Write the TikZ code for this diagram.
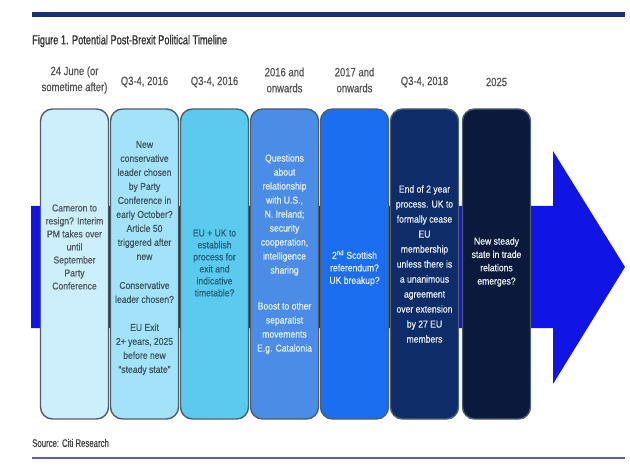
\documentclass[tikz,border=0pt]{standalone}
\usepackage{fontspec}
\setmainfont{Liberation Sans}
\newfontfamily\titlefont[FakeStretch=0.71,FakeBold=1.2]{Liberation Sans}
\newfontfamily\headfont[FakeStretch=0.79,FakeBold=0.7]{Liberation Sans}
\newfontfamily\boxfont[FakeStretch=0.86,FakeBold=0.6]{Liberation Sans}

\definecolor{barnavy}{HTML}{17306E}
\definecolor{rulegrey}{HTML}{5A6590}
\definecolor{arrowblue}{HTML}{1014E4}
\definecolor{framegrey}{HTML}{4E5E6C}
\definecolor{headgrey}{HTML}{555555}
\definecolor{c1}{HTML}{CDEFFB}
\definecolor{c2}{HTML}{A3E2F8}
\definecolor{c3}{HTML}{5BCAEE}
\definecolor{c4}{HTML}{4B8DE6}
\definecolor{c5}{HTML}{1C6EF0}
\definecolor{c6}{HTML}{0E2C68}
\definecolor{c7}{HTML}{0B1A3C}
\definecolor{ink1}{HTML}{4E5A62}
\definecolor{ink2}{HTML}{3D5866}
\definecolor{ink3}{HTML}{1F6380}
\definecolor{inklight}{HTML}{E8EEFA}

\tikzset{
  stagebox/.style={draw=framegrey, line width=1.4pt, rounded corners=12pt,
    minimum width=68pt, minimum height=310pt, inner sep=0pt, outer sep=0pt},
  period/.style={font=\headfont\fontsize{12}{16}\selectfont, text=headgrey,
    align=center, inner sep=0pt},
  blurb/.style={font=\boxfont\fontsize{10}{14}\selectfont, align=center,
    inner sep=0pt},
}

\begin{document}
\begin{tikzpicture}[x=1pt, y=-1pt]
      \useasboundingbox (0,0) rectangle (630,476);
      % rules and title
      \fill[barnavy] (32,12.5) rectangle (625,17.5);
      \node[anchor=west, inner sep=0pt, text=black!78,
        font=\titlefont\fontsize{13}{15}\selectfont] (title) at (32,41)
        {Figure 1. Potential Post-Brexit Political Timeline};
      % big arrow behind the boxes
      \fill[arrowblue] (31,206) -- (553,206) -- (553,151) -- (625,267)
        -- (553,384) -- (553,328) -- (31,328) -- cycle;
      % periods
      \node[period] (h1) at (74.5,80) {24 June (or\\sometime after)};
      \node[period] (h2) at (144.5,82) {Q3-4, 2016};
      \node[period] (h3) at (214.5,82) {Q3-4, 2016};
      \node[period] (h4) at (284.5,80) {2016 and\\onwards};
      \node[period] (h5) at (354.5,80) {2017 and\\onwards};
      \node[period] (h6) at (424.5,82) {Q3-4, 2018};
      \node[period] (h7) at (496.5,82) {2025};
      % stages
      \node[stagebox, fill=c1] (b1) at (74.5,264) {};
      \node[stagebox, fill=c2] (b2) at (144.5,264) {};
      \node[stagebox, fill=c3] (b3) at (214.5,264) {};
      \node[stagebox, fill=c4] (b4) at (284.5,264) {};
      \node[stagebox, fill=c5] (b5) at (354.5,264) {};
      \node[stagebox, fill=c6] (b6) at (424.5,264) {};
      \node[stagebox, fill=c7] (b7) at (496.5,264) {};
      % texts in the stages
      \node[blurb, text=ink1, font=\boxfont\fontsize{10}{13}\selectfont] (t1)
        at (74.5,247) {Cameron to\\resign? Interim\\PM takes over\\until\\September\\Party\\Conference};
      \node[blurb, text=ink2] (t2) at (144.5,258)
        {New\\conservative\\leader chosen\\by Party\\Conference in\\early October?\\Article 50\\triggered after\\new\\[15pt]Conservative\\leader chosen?\\[14pt]EU Exit\\2+ years, 2025\\before new\\“steady state”};
      \node[blurb, text=ink3, font=\boxfont\fontsize{10}{12}\selectfont] (t3)
        at (214.5,263) {EU + UK to\\establish\\process for\\exit and\\indicative\\timetable?};
      \node[blurb, text=inklight] (t4) at (284.5,254)
        {Questions\\about\\relationship\\with U.S.,\\N. Ireland;\\security\\cooperation,\\intelligence\\sharing\\[22pt]Boost to other\\separatist\\movements\\E.g. Catalonia};
      \node[blurb, text=inklight, font=\boxfont\fontsize{10}{12.5}\selectfont] (t5)
        at (354.5,268) {2\textsuperscript{nd} Scottish\\referendum?\\UK breakup?};
      \node[blurb, text=inklight, font=\boxfont\fontsize{10}{15}\selectfont] (t6)
        at (424.5,264) {End of 2 year\\process. UK to\\formally cease\\EU\\membership\\unless there is\\a unanimous\\agreement\\over extension\\by 27 EU\\members};
      \node[blurb, text=inklight, font=\boxfont\fontsize{10}{13.3}\selectfont] (t7)
        at (496.5,262) {New steady\\state in trade\\relations\\emerges?};
      % source
      \node[anchor=west, inner sep=0pt, text=black!72,
        font=\titlefont\fontsize{11}{13}\selectfont] (src) at (32,443)
        {Source: Citi Research};
      \draw[rulegrey, line width=1.5pt] (32,458) -- (625,458);
    \end{tikzpicture}
\end{document}
